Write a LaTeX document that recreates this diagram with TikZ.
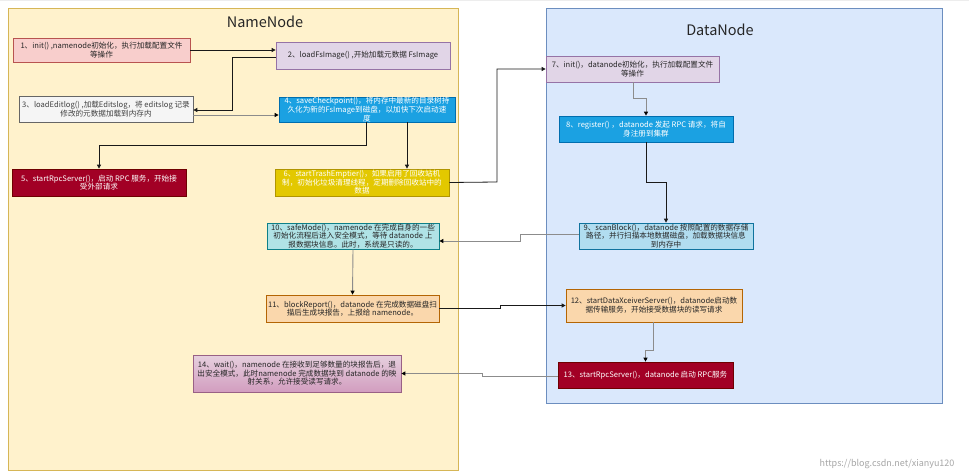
\documentclass[tikz,border=0pt]{standalone}
\usepackage{fontspec}
\setmainfont{Noto Sans CJK SC}
\usetikzlibrary{arrows.meta}
\definecolor{nnfill}{HTML}{FFF2CC}
\definecolor{nnline}{HTML}{D6B656}
\definecolor{dnfill}{HTML}{DAE8FC}
\definecolor{dnline}{HTML}{6C8EBF}
\definecolor{pinkf}{HTML}{F8CECC}
\definecolor{pinkl}{HTML}{B85450}
\definecolor{purf}{HTML}{E1D5E7}
\definecolor{purl}{HTML}{9673A6}
\definecolor{grayf}{HTML}{F5F5F5}
\definecolor{grayl}{HTML}{666666}
\definecolor{bluef}{HTML}{1BA1E2}
\definecolor{bluel}{HTML}{006EAF}
\definecolor{redf}{HTML}{A20025}
\definecolor{redl}{HTML}{6F0000}
\definecolor{yelf}{HTML}{E3C800}
\definecolor{yell}{HTML}{B09500}
\definecolor{lbluef}{HTML}{B1DDF0}
\definecolor{lbluel}{HTML}{10739E}
\definecolor{tealf}{HTML}{B0E3E6}
\definecolor{teall}{HTML}{0E8088}
\definecolor{orgf}{HTML}{FAD7AC}
\definecolor{orgl}{HTML}{B46504}
\definecolor{mag1}{HTML}{E6D0DE}
\definecolor{mag2}{HTML}{D29DBF}
\definecolor{magl}{HTML}{996185}
\definecolor{gridc}{HTML}{EDEDED}
\definecolor{linegray}{HTML}{8C8C8C}
\newcommand{\bxfont}{\fontsize{7.6}{8.6}\selectfont}
\tikzset{
  box/.style={draw, line width=0.7pt, inner sep=0.5pt, align=center, font=\bxfont, text=black!85},
  whitetext/.style={text=white},
  container/.style={draw, line width=0.8pt},
  ctitle/.style={font=\fontsize{14.5}{16}\selectfont, text=black!85},
  arr/.style={line width=0.8pt, draw=black!90, -{Triangle[length=4pt,width=4pt]}},
  garr/.style={line width=0.9pt, draw=linegray, -{Triangle[length=4pt,width=4pt,color=black]}},
}
\begin{document}
\begin{tikzpicture}[x=1pt,y=-1pt]
\useasboundingbox (0,0) rectangle (969,476);
\fill[white] (0,0) rectangle (969,476);
\draw[gridc, line width=0.4pt, step=10pt] (0,0) grid (969,-476);
% containers
\node[container, fill=nnfill, draw=nnline, minimum width=450pt, minimum height=462pt, anchor=north west] (nn) at (8,8) {};
\node[container, fill=dnfill, draw=dnline, minimum width=396pt, minimum height=395pt, anchor=north west] (dn) at (546,8) {};
\node[ctitle] (nnt) at (265,22) {NameNode};
\node[ctitle] (dnt) at (720,30) {DataNode};
% boxes
\node[box, fill=pinkf, draw=pinkl, minimum width=177pt, minimum height=24pt] (b1) at (101.5,50) {1、init() ,namenode初始化，执行加载配置文件\\等操作};
\node[box, fill=purf, draw=purl, minimum width=174pt, minimum height=27pt] (b2) at (363,55.5) {2、loadFsImage() ,开始加载元数据 FsImage};
\node[box, fill=grayf, draw=grayl, minimum width=174pt, minimum height=26pt, text=black!75] (b3) at (106,109) {3、loadEditlog() ,加载Editslog，将 editslog 记录\\修改的元数据加载到内存内};
\node[box, fill=bluef, draw=bluel, whitetext, minimum width=176pt, minimum height=25pt] (b4) at (367,109.5) {4、saveCheckpoint()，将内存中最新的目录树持\\久化为新的FsImage到磁盘，以加快下次启动速\\度};
\node[box, fill=redf, draw=redl, whitetext, minimum width=174pt, minimum height=27pt] (b5) at (99,182.5) {5、startRpcServer()，启动 RPC 服务，开始接\\受外部请求};
\node[box, fill=yelf, draw=yell, whitetext, minimum width=174pt, minimum height=27pt] (b6) at (362,182.5) {6、startTrashEmptier()，如果启用了回收站机\\制，初始化垃圾清理线程，定期删除回收站中的\\数据};
\node[box, fill=purf, draw=purl, minimum width=173pt, minimum height=26pt] (b7) at (632.5,69) {7、init()，datanode初始化，执行加载配置文件\\等操作};
\node[box, fill=bluef, draw=bluel, whitetext, minimum width=174pt, minimum height=26pt] (b8) at (646,129) {8、register() ，datanode 发起 RPC 请求，将自\\身注册到集群};
\node[box, fill=lbluef, draw=lbluel, minimum width=174pt, minimum height=26pt] (b9) at (666,236) {9、scanBlock()，datanode 按照配置的数据存储\\路径，并行扫描本地数据磁盘，加载数据块信息\\到内存中};
\node[box, fill=tealf, draw=teall, minimum width=172pt, minimum height=26pt] (b10) at (353,236) {10、safeMode()，namenode 在完成自身的一些\\初始化流程后进入安全模式，等待 datanode 上\\报数据块信息。此时，系统是只读的。};
\node[box, fill=orgf, draw=orgl, minimum width=173pt, minimum height=27pt] (b11) at (352.5,308.5) {11、blockReport()，datanode 在完成数据磁盘扫\\描后生成块报告，上报给 namenode。};
\node[box, fill=orgf, draw=orgl, minimum width=176pt, minimum height=33pt] (b12) at (654,305.5) {12、startDataXceiverServer()，datanode启动数\\据传输服务，开始接受数据块的读写请求};
\node[box, fill=redf, draw=redl, whitetext, minimum width=175pt, minimum height=26pt] (b13) at (645.5,375) {13、startRpcServer()，datanode 启动 RPC服务};
\node[box, top color=mag1, bottom color=mag2, draw=magl, minimum width=208pt, minimum height=37pt] (b14) at (297,373.5) {14、wait()，namenode 在接收到足够数量的块报告后，退\\出安全模式，此时namenode 完成数据块到 datanode 的映\\射关系，允许接受读写请求。};
% connectors
\coordinate (j23) at (232,57);
\coordinate (j45) at (366,145);
\coordinate (j67) at (497,182);
\coordinate (j78) at (633,98);
\coordinate (j89) at (646,182);
\coordinate (j910) at (520,234);
\coordinate (j1112) at (500,308);
\coordinate (j1213) at (653,350);
\coordinate (j1314) at (482,376);
\draw[arr] (b1.east) -- (b1.east -| b2.west);
\draw[arr] (b2.west |- j23) -- (j23) |- ([yshift=-1pt]b3.east);
\draw[garr] ([yshift=-6pt]b3.east) -- ([yshift=-6pt]b3.east -| b4.west);
\draw[arr] (b4.south -| j45) -- (j45) -| (b5.north);
\draw[arr] ([xshift=40pt]b4.south) -- ([xshift=40pt]b4.south |- b6.north);
\draw[arr] (b6.east) -- (j67) |- (b7.west);
\draw[garr] (b7.south -| j78) -- (j78) -| (b8.north);
\draw[arr] (b8.south) -- (j89) -| (b9.north);
\draw[garr] (b9.west |- j910) -- (j910) |- ([yshift=-5pt]b10.east);
\draw[garr] (b10.south) -- (b11.north);
\draw[arr] (b11.east |- j1112) -- (j1112) |- ([yshift=0pt]b12.west);
\draw[garr] (b12.south -| j1213) -- (j1213) -| (b13.north);
\draw[garr] (b13.west |- j1314) -- (j1314) |- (b14.east);
% watermark
\node[font=\fontsize{9}{10}\selectfont, text=black!35, anchor=east] (wm) at (958,464) {https://blog.csdn.net/xianyu120};
\end{tikzpicture}
\end{document}
